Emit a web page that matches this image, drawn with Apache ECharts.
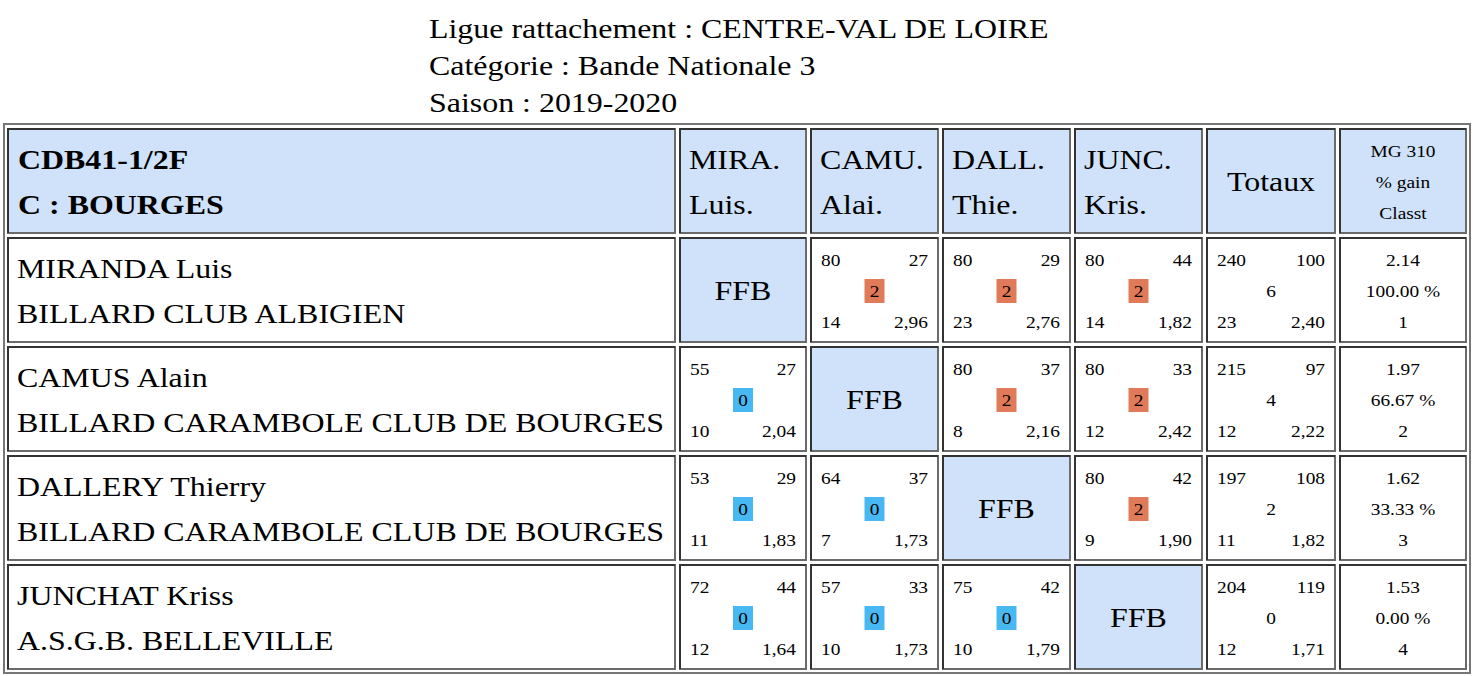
<!DOCTYPE html>
<html><head><meta charset="utf-8">
<script src="https://cdn.jsdelivr.net/npm/echarts@6/dist/echarts.min.js"></script>
<style>html,body{margin:0;background:#fff}#c{width:1473px;height:676px}</style>
</head><body><div id="c"></div>
<script>
const titleLines = ['Ligue rattachement : CENTRE-VAL DE LOIRE', 'Catégorie : Bande Nationale 3', 'Saison : 2019-2020'];
const poolLines = ['CDB41-1/2F', 'C : BOURGES'];
const players = ['MIRANDA Luis', 'CAMUS Alain', 'DALLERY Thierry', 'JUNCHAT Kriss'];
const clubs = ['BILLARD CLUB ALBIGIEN', 'BILLARD CARAMBOLE CLUB DE BOURGES', 'BILLARD CARAMBOLE CLUB DE BOURGES', 'A.S.G.B. BELLEVILLE'];
const shortNames = [['MIRA.', 'Luis.'], ['CAMU.', 'Alai.'], ['DALL.', 'Thie.'], ['JUNC.', 'Kris.']];
const totalsHeader = 'Totaux';
const mgHeader = ['MG 310', '% gain', 'Classt'];
// [points, reprises-top, match points, reprises, moyenne]
const matches = [
  [null, ['80', '27', 2, '14', '2,96'], ['80', '29', 2, '23', '2,76'], ['80', '44', 2, '14', '1,82']],
  [['55', '27', 0, '10', '2,04'], null, ['80', '37', 2, '8', '2,16'], ['80', '33', 2, '12', '2,42']],
  [['53', '29', 0, '11', '1,83'], ['64', '37', 0, '7', '1,73'], null, ['80', '42', 2, '9', '1,90']],
  [['72', '44', 0, '12', '1,64'], ['57', '33', 0, '10', '1,73'], ['75', '42', 0, '10', '1,79'], null]
];
const totals = [
  ['240', '100', 6, '23', '2,40'],
  ['215', '97', 4, '12', '2,22'],
  ['197', '108', 2, '11', '1,82'],
  ['204', '119', 0, '12', '1,71']
];
const mgValues = [['2.14', '100.00 %', '1'], ['1.97', '66.67 %', '2'], ['1.62', '33.33 %', '3'], ['1.53', '0.00 %', '4']];

// table layout
const colEdges = [8, 675, 680, 806, 811, 938, 943, 1070, 1075, 1202, 1207, 1335, 1340, 1466];
const rowEdges = [129, 233, 238, 342, 347, 451, 456, 560, 565, 669];
const font = '"Liberation Serif", "DejaVu Serif", serif';
const headBg = '#cfe2f9';
const stretch = 1.14; // reference text is horizontally stretched

const cells = [];
cells.push({ r: 0, c: 0, kind: 'pool' });
shortNames.forEach((s, i) => cells.push({ r: 0, c: i + 1, kind: 'short', lines: s }));
cells.push({ r: 0, c: 5, kind: 'tot' });
cells.push({ r: 0, c: 6, kind: 'mg', lines: mgHeader });
players.forEach((p, i) => {
  cells.push({ r: i + 1, c: 0, kind: 'name', lines: [p, clubs[i]] });
  matches[i].forEach((m, j) => cells.push(m ? { r: i + 1, c: j + 1, kind: 'match', m } : { r: i + 1, c: j + 1, kind: 'ffb' }));
  cells.push({ r: i + 1, c: 5, kind: 'match', m: totals[i], plain: true });
  cells.push({ r: i + 1, c: 6, kind: 'mg', lines: mgValues[i] });
});

const txt = (x, y, s, size, align, weight) => ({
  type: 'text', x, y, scaleX: stretch,
  style: { x: 0, y: 0, text: s, fill: '#000', font: `${weight || 'normal'} ${size}px ${font}`, align: align || 'left', verticalAlign: 'middle' }
});

function renderItem(params, api) {
  const cell = cells[params.dataIndex];
  const p0 = api.coord([colEdges[cell.c * 2], rowEdges[cell.r * 2]]);
  const p1 = api.coord([colEdges[cell.c * 2 + 1], rowEdges[cell.r * 2 + 1]]);
  const x0 = p0[0], y0 = p0[1], w = p1[0] - x0, h = p1[1] - y0, cx = x0 + w / 2;
  const head = cell.r === 0 || cell.kind === 'ffb';
  const ch = [
    { type: 'rect', shape: { x: x0, y: y0, width: w, height: h }, style: { fill: head ? headBg : '#fff', stroke: '#6b6b6b', lineWidth: 2 } },
    { type: 'polyline', shape: { points: [[x0, y0 + h], [x0, y0], [x0 + w, y0]] }, style: { fill: null, stroke: '#333', lineWidth: 2 } }
  ];
  if (cell.kind === 'pool') {
    ch.push(txt(x0 + 10, y0 + 30, poolLines[0], 28, 'left', 'bold'), txt(x0 + 10, y0 + 75, poolLines[1], 28, 'left', 'bold'));
  } else if (cell.kind === 'short' || cell.kind === 'name') {
    ch.push(txt(x0 + 9, y0 + 30, cell.lines[0], 28), txt(x0 + 9, y0 + 75, cell.lines[1], 28));
  } else if (cell.kind === 'tot') {
    ch.push(txt(cx, y0 + h / 2, totalsHeader, 28, 'center'));
  } else if (cell.kind === 'ffb') {
    ch.push(txt(cx, y0 + h / 2, 'FFB', 28, 'center'));
  } else if (cell.kind === 'mg') {
    cell.lines.forEach((s, k) => ch.push(txt(cx, y0 + 22 + k * 31, s, 17, 'center')));
  } else {
    const m = cell.m, cy = y0 + 53;
    if (!cell.plain) {
      ch.push({ type: 'rect', shape: { x: cx - 10, y: cy - 12, width: 20, height: 24 }, style: { fill: m[2] === 2 ? '#e07a58' : '#48b8f2' } });
    }
    ch.push(txt(x0 + 10, y0 + 22, m[0], 17), txt(x0 + w - 10, y0 + 22, m[1], 17, 'right'),
      txt(cx, cy, String(m[2]), 17, 'center'),
      txt(x0 + 10, y0 + 84, m[3], 17), txt(x0 + w - 10, y0 + 84, m[4], 17, 'right'));
  }
  return { type: 'group', children: ch };
}

const chart = echarts.init(document.getElementById('c'), null, { renderer: 'svg' });
chart.setOption({
  animation: false,
  grid: { left: 0, right: 0, top: 0, bottom: 0 },
  xAxis: { type: 'value', min: 0, max: 1473, show: false },
  yAxis: { type: 'value', min: 0, max: 676, inverse: true, show: false },
  graphic: [
    { type: 'rect', shape: { x: 4, y: 124, width: 1466, height: 549 }, style: { fill: null, stroke: '#777', lineWidth: 2 } },
    ...titleLines.map((t, i) => txt(429, 28 + i * 37, t, 28))
  ],
  series: [{ type: 'custom', renderItem, data: cells.map((c, i) => [i]), clip: false }]
});
</script></body></html>
